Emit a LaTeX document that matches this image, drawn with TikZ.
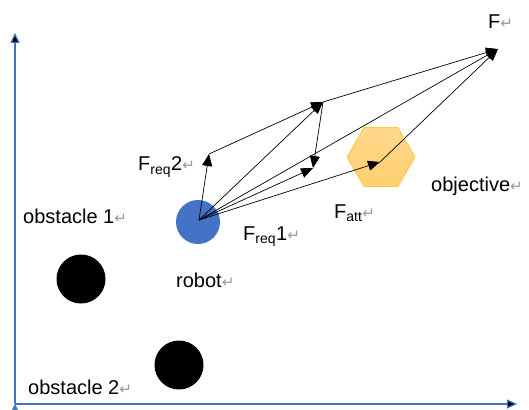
\documentclass[tikz,border=0pt]{standalone}
\usepackage{fontspec}
\setmainfont{Liberation Sans}
\newfontfamily\symfont{DejaVu Sans}
\usetikzlibrary{arrows.meta}
\usetikzlibrary{shapes.geometric}
\usetikzlibrary{positioning}
\definecolor{axisblue}{HTML}{4472C4}
\definecolor{robotblue}{HTML}{4472C4}
\definecolor{hextop}{HTML}{FFD88C}
\definecolor{hexbot}{HTML}{FFD070}
\definecolor{hexline}{HTML}{FFC740}
\newcommand{\ret}{{\symfont\fontsize{15}{15}\selectfont\color{black!40}\char"21B5}}

\begin{document}
\begin{tikzpicture}[x=1pt,y=-1pt,
  axis/.style={draw=axisblue,line width=1.2pt,-{Triangle[length=10pt,width=9pt]}},
  vec/.style={line width=0.7pt,-{Triangle[length=12pt,width=10pt]}},
  lbl/.style={anchor=west,inner sep=0pt,font=\fontsize{20}{24}\selectfont}]
\useasboundingbox (0,0) rectangle (529,409);

% axes
\coordinate (O) at (15,404);
\coordinate (Ytop) at (15,33);
\coordinate (Xend) at (517,404);
\path[axis] (O) edge (Ytop);
\path[axis] (O) edge (Xend);

% robot, obstacles, objective
\node[circle,fill=robotblue,minimum size=44pt,inner sep=0pt] (robot) at (198,222) {};
\node[circle,fill=black,minimum size=49pt,inner sep=0pt] (obs1) at (81,279) {};
\node[circle,fill=black,minimum size=49pt,inner sep=0pt] (obs2) at (179,365) {};
\node[regular polygon,regular polygon sides=6,minimum size=68pt,inner sep=0pt,
  draw=hexline,line width=0.8pt,top color=hextop,bottom color=hexbot] (goal) at (381,157) {};

% force vectors
\coordinate (R) at (199,220);
\coordinate (Fr2) at (209,154);
\coordinate (Fr1) at (313,168);
\coordinate (Frs) at (323,102);
\coordinate (Fa) at (380,162);
\coordinate (F) at (498,49);
\path[vec] (R) edge (Fr2);
\path[vec] (R) edge (Fr1);
\path[vec] (R) edge (Frs);
\path[vec] (R) edge (Fa);
\path[vec] (R) edge (F);
\path[vec] (Fr2) edge (Frs);
\path[vec] (Frs) edge (Fr1);
\path[vec] (Frs) edge (F);
\path[vec] (Fa) edge (F);

% labels
\node[lbl] (tF) at (488,22) {F\ret};
\node[lbl] (tFr2) at (138,167) {F\textsubscript{req}2\ret};
\node[lbl] (tFr1) at (243,237) {F\textsubscript{req}1\ret};
\node[lbl] (tFa) at (334,213) {F\textsubscript{att}\ret};
\node[lbl] (tgoal) at (431,186) {objective\ret};
\node[lbl] (tobs1) at (23,216) {obstacle 1\ret};
\node[lbl] (trobot) at (176,280) {robot\ret};
\node[lbl] (tobs2) at (28,387) {obstacle 2\ret};
\end{tikzpicture}
\end{document}
